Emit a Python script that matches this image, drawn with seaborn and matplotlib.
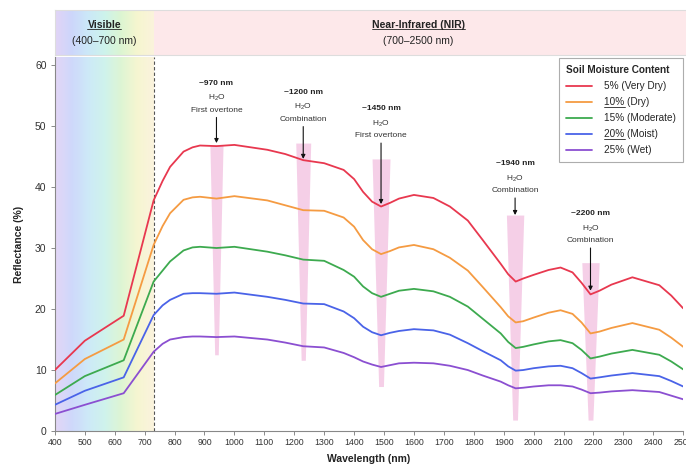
import numpy as np
import pandas as pd
import matplotlib
matplotlib.use("Agg")
import matplotlib.pyplot as plt
from matplotlib.colors import LinearSegmentedColormap
import seaborn as sns

# ---------------- data ----------------
wavelength = [400, 500, 630, 730, 760, 785, 830, 860, 885, 940, 1000, 1110, 1170, 1230, 1300,
              1365, 1400, 1430, 1460, 1490, 1520, 1550, 1600, 1665, 1720, 1780, 1830, 1890,
              1915, 1940, 1965, 2000, 2050, 2090, 2130, 2160, 2190, 2220, 2260, 2330, 2420,
              2460, 2500]
very_dry = [10.0, 14.8, 18.9, 37.8, 41.0, 43.3, 45.8, 46.5, 46.8, 46.7, 46.9, 46.1, 45.4, 44.4,
            43.9, 42.8, 41.3, 39.2, 37.6, 36.8, 37.4, 38.1, 38.7, 38.2, 36.8, 34.5, 31.3, 27.4,
            25.7, 24.5, 25.0, 25.6, 26.4, 26.8, 26.0, 24.3, 22.4, 23.0, 24.0, 25.2, 23.9,
            22.2, 20.1]
dry = [7.8, 11.8, 15.0, 30.5, 33.6, 35.7, 37.9, 38.3, 38.4, 38.1, 38.5, 37.8, 37.0, 36.2,
       36.1, 35.0, 33.5, 31.3, 29.8, 29.0, 29.5, 30.1, 30.5, 29.8, 28.4, 26.3, 23.6, 20.3,
       18.8, 17.8, 18.0, 18.6, 19.4, 19.8, 19.2, 17.8, 16.0, 16.3, 16.9, 17.7, 16.6,
       15.3, 13.8]
moderate = [5.9, 9.0, 11.6, 24.5, 26.3, 27.8, 29.6, 30.1, 30.2, 30.0, 30.2, 29.4, 28.8, 28.1,
            27.9, 26.4, 25.3, 23.7, 22.6, 22.0, 22.5, 23.0, 23.3, 22.9, 22.0, 20.4, 18.4, 16.0,
            14.6, 13.6, 13.8, 14.2, 14.7, 14.9, 14.4, 13.3, 11.9, 12.2, 12.7, 13.3, 12.5,
            11.4, 10.1]
moist = [4.3, 6.6, 8.8, 19.0, 20.6, 21.5, 22.5, 22.6, 22.6, 22.5, 22.7, 22.0, 21.5, 20.9,
         20.8, 19.6, 18.5, 17.1, 16.2, 15.7, 16.1, 16.4, 16.7, 16.5, 15.8, 14.4, 13.1, 11.6,
         10.6, 9.9, 10.0, 10.3, 10.6, 10.7, 10.3, 9.5, 8.6, 8.8, 9.1, 9.5, 9.0,
         8.2, 7.3]
wet = [2.8, 4.3, 6.2, 13.0, 14.3, 15.0, 15.4, 15.5, 15.5, 15.4, 15.5, 15.0, 14.5, 13.9,
       13.7, 12.8, 12.1, 11.4, 10.9, 10.5, 10.8, 11.1, 11.2, 11.1, 10.7, 10.0, 9.1, 8.1,
       7.5, 7.0, 7.1, 7.3, 7.5, 7.5, 7.3, 6.8, 6.2, 6.3, 6.5, 6.7, 6.4,
       5.8, 5.2]
series_labels = ["5% (Very Dry)", "10% (Dry)", "15% (Moderate)", "20% (Moist)", "25% (Wet)"]
series_colors = ["#E8384F", "#F59B42", "#3DAA4F", "#4A63E8", "#8B4FD1"]

# absorption bands (as drawn)
band_labels = ["~970 nm", "~1200 nm", "~1450 nm", "~1940 nm", "~2200 nm"]
band_notes = ["First overtone", "Combination", "First overtone", "Combination", "Combination"]
band_center = [940, 1230, 1490, 1938, 2190]
band_top = [46.9, 47.2, 44.6, 35.4, 27.6]
band_bottom = [12.5, 11.6, 7.3, 1.8, 1.8]
band_width_top = [44, 50, 60, 58, 58]
band_width_bottom = [12, 14, 16, 16, 16]
arrow_tip = [47.2, 44.6, 37.2, 35.4, 23.0]
label_y = [57.0, 55.5, 52.8, 43.8, 35.6]

visible_range = [400, 730]
xticks = list(range(400, 2501, 100))
yticks = [0, 10, 20, 30, 40, 50, 60]

# ---------------- style ----------------
sns.set_theme(style="ticks")
plt.rcParams["font.family"] = ["Liberation Sans", "DejaVu Sans"]
plt.rcParams["mathtext.fontset"] = "custom"
plt.rcParams["mathtext.rm"] = "Liberation Sans"
plt.rcParams["mathtext.it"] = "Liberation Sans:italic"
plt.rcParams["mathtext.bf"] = "Liberation Sans:bold"
plt.rcParams["lines.solid_joinstyle"] = "round"
plt.rcParams["lines.solid_capstyle"] = "round"

fig = plt.figure(figsize=(6.86, 4.66), dpi=100)
ax = fig.add_axes([0.080, 0.075, 0.916, 0.8026])
hax = fig.add_axes([0.080, 0.882, 0.93, 0.097])

# long-form frame
df = pd.DataFrame({
    "Wavelength": wavelength * 5,
    "Reflectance": very_dry + dry + moderate + moist + wet,
    "Moisture": sum([[l] * len(wavelength) for l in series_labels], []),
})

# visible gradient
pale = LinearSegmentedColormap.from_list(
    "pale_rainbow", ["#e2d4f6", "#cdd6fb", "#cbe8f8", "#cdf3ec", "#dcf5d2", "#f6f6cf", "#fbf3dc"])
grad = np.linspace(0, 1, 256).reshape(1, -1)
ax.imshow(grad, cmap=pale, aspect="auto", extent=[visible_range[0], visible_range[1], 0, 61.3],
          zorder=0, alpha=0.95)
ax.axvline(visible_range[1], color="#555555", lw=0.8, ls=(0, (3, 2)), zorder=1)

# bands
for c, t, b, wt, wb in zip(band_center, band_top, band_bottom, band_width_top, band_width_bottom):
    ax.fill_betweenx([b, t], [c - wb / 2, c - wt / 2], [c + wb / 2, c + wt / 2],
                     color="#f3c3e2", alpha=0.8, lw=0, zorder=1)

sns.lineplot(data=df, x="Wavelength", y="Reflectance", hue="Moisture",
             palette=series_colors, hue_order=series_labels, lw=1.3, ax=ax, zorder=3)

# annotations
for c, lab, note, tip, ly in zip(band_center, band_labels, band_notes, arrow_tip, label_y):
    ax.text(c, ly, lab, ha="center", va="center", fontsize=6, fontweight="bold", color="#222222")
    ax.text(c, ly - 2.4, r"H$_2$O", ha="center", va="center", fontsize=6, color="#333333")
    ax.text(c, ly - 4.4, note, ha="center", va="center", fontsize=6, color="#333333")
    ax.annotate("", xy=(c, tip), xytext=(c, ly - 5.6),
                arrowprops=dict(arrowstyle="-|>", color="#111111", lw=0.8,
                                mutation_scale=6, shrinkA=0, shrinkB=0), zorder=5)

ax.set_xlim(400, 2500)
ax.set_ylim(0, 61.3)
ax.set_xticks(xticks)
ax.set_yticks(yticks)
ax.tick_params(axis="x", labelsize=6.3, length=3, width=0.6, color="#777777", labelcolor="#333333", pad=2)
ax.tick_params(axis="y", labelsize=7.5, length=3, width=0.6, color="#777777", labelcolor="#333333", pad=3)
ax.set_xlabel("Wavelength (nm)", fontsize=7.5, fontweight="bold", color="#222222", labelpad=5)
ax.set_ylabel("Reflectance (%)", fontsize=7.5, fontweight="bold", color="#222222", labelpad=8)
for s in ["top", "right"]:
    ax.spines[s].set_visible(False)
for s in ["left", "bottom"]:
    ax.spines[s].set_color("#888888")
    ax.spines[s].set_linewidth(0.8)

leg = ax.legend(title="Soil Moisture Content", loc="upper right", bbox_to_anchor=(1.008, 1.01),
                fontsize=7.2, title_fontproperties={"weight": "bold", "size": 7.2},
                frameon=True, fancybox=False, edgecolor="#999999", handlelength=2.6,
                labelspacing=0.6, borderpad=0.7, handletextpad=1.2)
leg.get_frame().set_linewidth(0.8)
leg._legend_box.align = "left"
for line in leg.get_lines():
    line.set_linewidth(1.3)

# header band
hax.set_xlim(400, 2500 + (0.93 - 0.916) / 0.916 * 2100)
hax.set_ylim(0, 1)
hax.imshow(grad, cmap=pale, aspect="auto", extent=[visible_range[0], visible_range[1], 0, 1], zorder=0)
hax.axvspan(visible_range[1], 2600, color="#fde8ea", lw=0, zorder=0)
hax.set_xticks([])
hax.set_yticks([])
for s in hax.spines.values():
    s.set_color("#dddddd")
    s.set_linewidth(0.8)

vis_mid = (visible_range[0] + visible_range[1]) / 2
nir_mid = (visible_range[1] + 2500) / 2
t1 = hax.text(vis_mid, 0.67, "Visible", ha="center", va="center", fontsize=7.5, fontweight="bold", color="#222222")
hax.text(vis_mid, 0.30, "(400–700 nm)", ha="center", va="center", fontsize=7.5, color="#222222")
t2 = hax.text(nir_mid, 0.67, "Near-Infrared (NIR)", ha="center", va="center", fontsize=7.5, fontweight="bold", color="#222222")
hax.text(nir_mid, 0.30, "(700–2500 nm)", ha="center", va="center", fontsize=7.5, color="#222222")

fig.canvas.draw()
r = fig.canvas.get_renderer()
inv = fig.transFigure.inverted()
under = [t1, t2]
# underline the percentage part of two legend entries
for txt in leg.get_texts():
    s = txt.get_text()
    if s.startswith("10%") or s.startswith("20%"):
        under.append((txt, s.split(" ")[0]))
for item in under:
    if isinstance(item, tuple):
        txt, part = item
        bb = txt.get_window_extent(renderer=r)
        tmp = fig.text(0, 0, part, fontsize=txt.get_fontsize(), fontproperties=txt.get_fontproperties())
        w = tmp.get_window_extent(renderer=r).width
        tmp.remove()
        (x0, y0), (x1, _) = inv.transform([(bb.x0, bb.y0), (bb.x0 + w, bb.y1)])
    else:
        bb = item.get_window_extent(renderer=r)
        (x0, y0), (x1, _) = inv.transform([(bb.x0, bb.y0), (bb.x1, bb.y1)])
    fig.add_artist(plt.Line2D([x0, x1], [y0 + 0.001, y0 + 0.001], transform=fig.transFigure,
                              color="#222222", lw=0.6, zorder=10))

fig.savefig("out.png", dpi=100)
